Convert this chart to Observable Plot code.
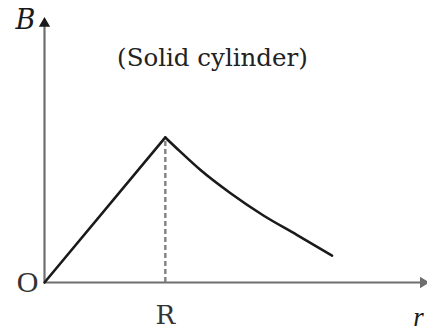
<!DOCTYPE html>
<html>
<head>
<meta charset="utf-8">
<script src="https://cdn.jsdelivr.net/npm/d3@7"></script>
<script src="https://cdn.jsdelivr.net/npm/@observablehq/plot@0.6"></script>
<style>
  html, body { margin: 0; padding: 0; background: #fff; }
</style>
</head>
<body>
<div id="chart"></div>
<script>
// Field B of a solid cylinder vs distance r (r in units of R, B in units of Bmax)
const rInside = [0, 1];
const bInside = [0, 1];
const rOutside = [1, 1.124, 1.289, 1.537, 1.812, 2.088, 2.380];
const bOutside = [1, 0.902, 0.777, 0.617, 0.462, 0.329, 0.186];
const xMax = 3.17;
const yMax = 1.82;
const titleText = "(Solid cylinder)";
const titleAt = [1.39, 1.545];
const xTickLabel = "R";
const originLabel = "O";
const xAxisLabel = "r";
const yAxisLabel = "B";

const inside = rInside.map((r, i) => ({r, b: bInside[i]}));
const outside = rOutside.map((r, i) => ({r, b: bOutside[i]}));

const axisColor = "#6e6e6e";
const ink = "#1a1a1a";
const serif = "'DejaVu Serif', serif";
const serif2 = "'Liberation Serif', serif";

const chart = Plot.plot({
  width: 427,
  height: 333,
  marginLeft: 44,
  marginRight: 0,
  marginTop: 18,
  marginBottom: 51,
  x: {domain: [0, xMax], axis: null},
  y: {domain: [0, yMax], axis: null},
  style: {background: "#fff", fontFamily: serif},
  marks: [
    // axes
    Plot.ruleX([0], {y1: 0, y2: yMax - 0.04, stroke: axisColor, strokeWidth: 2.2}),
    Plot.ruleY([0], {x1: 0, x2: xMax - 0.04, stroke: axisColor, strokeWidth: 2.2}),
    Plot.dot([{r: 0, b: yMax - 0.035}], {x: "r", y: "b", symbol: "triangle", r: 4.2, fill: ink, stroke: "none"}),
    Plot.dot([{r: xMax - 0.035, b: 0}], {x: "r", y: "b", symbol: "triangle", rotate: 90, r: 4.2, fill: axisColor, stroke: "none"}),
    // dashed guide at r = R
    Plot.ruleX([1], {y1: 0, y2: bOutside[0], stroke: "#808080", strokeWidth: 2.4, strokeDasharray: "5,3"}),
    // curve
    Plot.line(inside, {x: "r", y: "b", stroke: ink, strokeWidth: 2.6, strokeLinejoin: "round", strokeLinecap: "round"}),
    Plot.line(outside, {x: "r", y: "b", curve: "monotone-x", stroke: ink, strokeWidth: 2.6, strokeLinejoin: "round", strokeLinecap: "round"}),
    // labels
    Plot.text([titleText], {x: titleAt[0], y: titleAt[1], text: d => d, fontSize: 24.5, fill: "#222", textAnchor: "middle", lineAnchor: "middle", fontFamily: serif}),
    Plot.text([yAxisLabel], {x: 0, y: yMax, text: d => d, dx: -19, dy: 2, fontSize: 27, fontStyle: "italic", fill: ink, textAnchor: "middle", lineAnchor: "middle", fontFamily: serif}),
    Plot.text([originLabel], {x: 0, y: 0, text: d => d, dx: -17, dy: 0, fontSize: 30, fill: "#333", textAnchor: "middle", lineAnchor: "middle", fontFamily: serif2}),
    Plot.text([xTickLabel], {x: 1, y: 0, text: d => d, dy: 33, fontSize: 26, fill: "#333", textAnchor: "middle", lineAnchor: "middle", fontFamily: serif}),
    Plot.text([xAxisLabel], {x: xMax, y: 0, text: d => d, dx: -9, dy: 35, fontSize: 27, fontStyle: "italic", fill: ink, textAnchor: "middle", lineAnchor: "middle", fontFamily: serif2})
  ]
});
document.getElementById("chart").appendChild(chart);
</script>
</body>
</html>
